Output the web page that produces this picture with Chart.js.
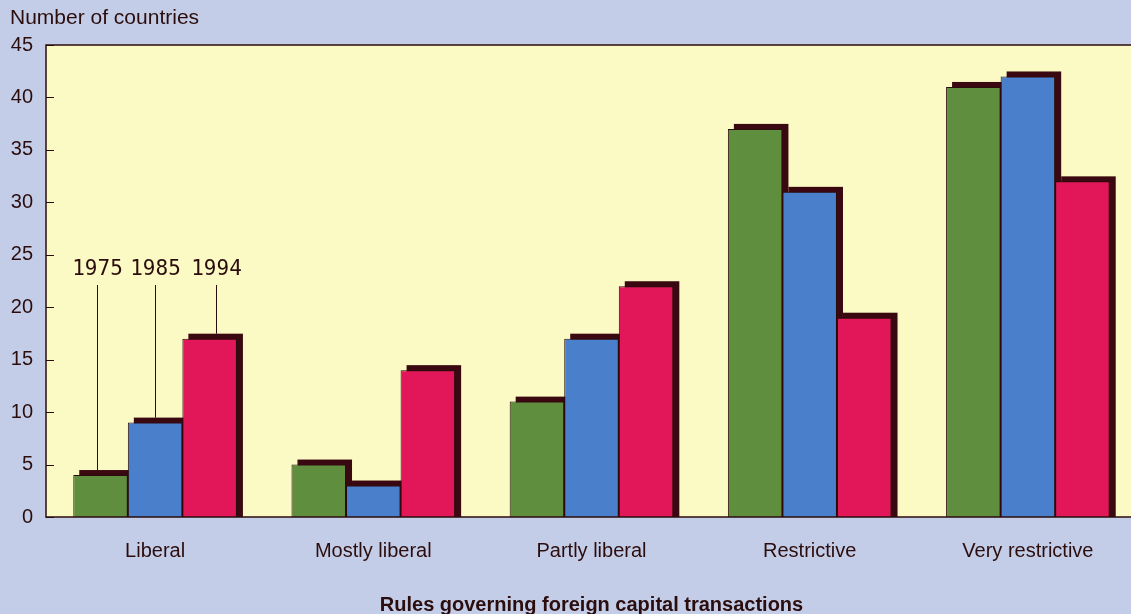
<!DOCTYPE html>
<html>
<head>
<meta charset="utf-8">
<script src="https://cdn.jsdelivr.net/npm/chart.js@4"></script>
<style>
html,body{margin:0;padding:0;background:#c4cde8;overflow:hidden;width:1131px;height:614px;}
canvas{display:block;}
</style>
</head>
<body>
<canvas id="c" width="1137" height="614"></canvas>
<script>
const categories = ["Liberal", "Mostly liberal", "Partly liberal", "Restrictive", "Very restrictive"];
const years = ["1975", "1985", "1994"];
const values1975 = [4, 5, 11, 37, 41];
const values1985 = [9, 3, 17, 31, 42];
const values1994 = [17, 14, 22, 19, 32];
const yTicks = [0, 5, 10, 15, 20, 25, 30, 35, 40, 45];
const yAxisTitle = "Number of countries";
const xAxisTitle = "Rules governing foreign capital transactions";

const TEXT = "#2b0d0d";
const SHADOW = "#3a0810";
const colors = ["#5f8e3e", "#4a7fcc", "#e2175a"];

const decor = {
  id: "decor",
  beforeDraw(chart) {
    const {ctx, chartArea: a} = chart;
    ctx.save();
    ctx.fillStyle = "#c4cde8";
    ctx.fillRect(0, 0, chart.width, chart.height);
    ctx.fillStyle = "#fbfac4";
    ctx.fillRect(a.left, a.top, a.right - a.left, a.bottom - a.top);
    ctx.restore();
  },
  beforeDatasetsDraw(chart) {
    const ctx = chart.ctx;
    ctx.save();
    ctx.fillStyle = SHADOW;
    chart.data.datasets.forEach((ds, i) => {
      chart.getDatasetMeta(i).data.forEach(b => {
        const w = b.width;
        ctx.fillRect(b.x - w / 2 + 6, b.y - 5, w, b.base - b.y + 5);
      });
    });
    ctx.restore();
  },
  afterDatasetsDraw(chart) {
    const {ctx, chartArea: a} = chart;
    const y = chart.scales.y;
    ctx.save();
    ctx.strokeStyle = TEXT;
    ctx.lineWidth = 1.5;
    ctx.beginPath();
    ctx.moveTo(chart.width + 2, a.top);
    ctx.lineTo(a.left, a.top);
    ctx.lineTo(a.left, a.bottom);
    ctx.lineTo(chart.width + 2, a.bottom);
    ctx.stroke();
    ctx.lineWidth = 1;
    yTicks.forEach(v => {
      const py = Math.round(y.getPixelForValue(v)) + 0.5;
      ctx.beginPath();
      ctx.moveTo(a.left, py);
      ctx.lineTo(a.left + 8, py);
      ctx.stroke();
    });
    // year labels with leader lines on first group
    const offs = [-4, 0, 6];
    ctx.font = "21px 'DejaVu Sans Mono'";
    ctx.fillStyle = TEXT;
    ctx.textAlign = "center";
    ctx.textBaseline = "middle";
    years.forEach((yr, i) => {
      const b = chart.getDatasetMeta(i).data[0];
      const x = Math.round(b.x + offs[i]) + 0.5;
      ctx.fillText(yr, x, 270);
      ctx.beginPath();
      ctx.moveTo(x, 285);
      ctx.lineTo(x, b.y - 5);
      ctx.stroke();
    });
    ctx.font = "21px 'Liberation Sans'";
    ctx.textAlign = "left";
    ctx.fillText(yAxisTitle, 10, 18);
    ctx.restore();
  }
};

new Chart(document.getElementById("c"), {
  type: "bar",
  data: {
    labels: categories,
    datasets: [
      {label: years[0], data: values1975, backgroundColor: colors[0]},
      {label: years[1], data: values1985, backgroundColor: colors[1]},
      {label: years[2], data: values1994, backgroundColor: colors[2]}
    ].map(d => Object.assign(d, {borderColor: "#2a0c0c", borderWidth: 1, categoryPercentage: 0.75, barPercentage: 1}))
  },
  options: {
    responsive: false,
    animation: false,
    devicePixelRatio: 1,
    layout: {padding: {top: 45, right: 0, left: 0, bottom: 0}},
    plugins: {legend: {display: false}, tooltip: {enabled: false}},
    scales: {
      x: {
        grid: {display: false},
        border: {display: false},
        ticks: {color: TEXT, font: {family: "Liberation Sans", size: 20}, padding: 14},
        title: {display: true, text: xAxisTitle, color: TEXT,
          font: {family: "'Liberation Sans Narrow', 'Liberation Sans'", size: 20, weight: "bold"},
          padding: {top: 0, bottom: -3}},
        afterFit(s) { s.height = 97; }
      },
      y: {
        min: 0, max: 45,
        grid: {display: false},
        border: {display: false},
        afterBuildTicks(s) { s.ticks = yTicks.map(v => ({value: v})); },
        ticks: {color: TEXT, font: {family: "Liberation Sans", size: 20}, padding: 5},
        afterFit(s) { s.width = 46; }
      }
    }
  },
  plugins: [decor]
});
</script>
</body>
</html>
